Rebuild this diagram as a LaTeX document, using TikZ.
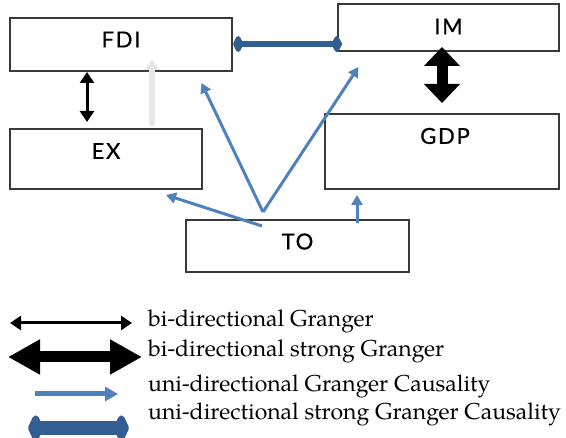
\documentclass[tikz,border=0pt]{standalone}
\usepackage{fontspec}
\usetikzlibrary{arrows.meta}
\newfontfamily\boxfont[LetterSpace=8,FakeBold=0.8]{Lato}
\newfontfamily\legfont{TeX Gyre Pagella}
\definecolor{uniblue}{HTML}{4F81BD}
\definecolor{strongblue}{HTML}{335E92}
\definecolor{boxline}{HTML}{3A3A3A}
\definecolor{ghost}{HTML}{E8E8E8}
\begin{document}
\begin{tikzpicture}[x=1pt,y=-1pt,
  varbox/.style={draw=boxline, line width=1.3pt, rectangle, inner sep=0pt},
  boxlbl/.style={font=\boxfont\fontsize{22}{22}\selectfont, text=black, inner sep=0pt},
  bithin/.style={draw=black, line width=3pt, {Triangle[length=11pt,width=14pt]}-{Triangle[length=11pt,width=14pt]}},
  bibig/.style={draw=black, line width=11pt, {Triangle[length=19pt,width=35pt]}-{Triangle[length=19pt,width=35pt]}},
  legbig/.style={draw=black, line width=11pt, {Triangle[length=32pt,width=33pt]}-{Triangle[length=32pt,width=33pt]}},
  uni/.style={draw=uniblue, line width=3pt, -{Triangle[length=10pt,width=11pt]}},
  leguni/.style={draw=uniblue, line width=5pt, -{Triangle[length=13pt,width=14pt]}},
  strong/.style={draw=strongblue, line width=6pt, {Kite[length=11pt,width=21pt,inset=5.5pt,round]}-{Kite[length=11pt,width=21pt,inset=5.5pt,round]}},
  legstrong/.style={draw=strongblue, line width=14pt, {Kite[length=16pt,width=34pt,inset=8pt,round]}-{Kite[length=16pt,width=34pt,inset=8pt,round]}},
  ghostarrow/.style={draw=ghost, line width=6pt, -{Triangle[length=11pt,width=14pt]}},
  legtext/.style={font=\legfont\fontsize{23}{23}\selectfont, anchor=base west, inner sep=0pt, text=black}]
\fill[white] (0,0) rectangle (566,438);
\useasboundingbox (0,0) rectangle (566,438);

% boxes
\node[varbox, minimum width=222pt, minimum height=53pt,
      label={[boxlbl,yshift=5pt]center:FDI}] (FDI) at (121,44.5) {};
\node[varbox, minimum width=221pt, minimum height=47pt,
      label={[boxlbl,yshift=1pt]center:IM}] (IM) at (448.5,27.5) {};
\node[varbox, minimum width=192pt, minimum height=60pt,
      label={[boxlbl,yshift=8pt]center:EX}] (EX) at (106,159) {};
\node[varbox, minimum width=234pt, minimum height=75pt,
      label={[boxlbl,yshift=15.5pt,xshift=3pt]center:GDP}] (GDP) at (442,151.5) {};
\node[varbox, minimum width=223pt, minimum height=52pt,
      label={[boxlbl,yshift=4.5pt]center:TO}] (TO) at (297.5,246) {};

% connector end points
\coordinate (fdiR) at (233,44);
\coordinate (imL) at (342,44);
\coordinate (fdiB) at (87,72);
\coordinate (exT) at (87,122);
\coordinate (exG) at (152,126);
\coordinate (fdiG) at (152,59);
\coordinate (imB) at (442,47);
\coordinate (gdpT) at (442,103);
\coordinate (toV) at (263,212);
\coordinate (fdiTip) at (201.5,83);
\coordinate (imTip) at (358.5,67);
\coordinate (toL) at (262,226);
\coordinate (exTip) at (166,195);
\coordinate (toR) at (357,223);
\coordinate (gdpTip) at (357,195);

% connectors
\draw[ghostarrow] (exG) -- (fdiG);
\draw[strong] (fdiR) -- (imL);
\draw[bithin] (fdiB) -- (exT);
\draw[bibig] (imB) -- (gdpT);
\draw[uni] (toV) -- (fdiTip);
\draw[uni] (toV) -- (imTip);
\draw[uni] (toL) -- (exTip);
\draw[uni] (toR) -- (gdpTip);

% legend
\coordinate (l1a) at (10,323);
\coordinate (l1b) at (132,323);
\coordinate (l2a) at (8,357);
\coordinate (l2b) at (142,357);
\coordinate (l3a) at (35,394);
\coordinate (l3b) at (118,394);
\coordinate (l4a) at (28,428);
\coordinate (l4b) at (129,428);
\draw[bithin] (l1a) -- (l1b);
\draw[legbig] (l2a) -- (l2b);
\draw[leguni] (l3a) -- (l3b);
\draw[legstrong] (l4a) -- (l4b);
\node[legtext] (t1) at (148,326.7) {bi-directional Granger};
\node[legtext] (t2) at (148,356.7) {bi-directional strong Granger};
\node[legtext] (t3) at (148,391.7) {uni-directional Granger Causality};
\node[legtext] (t4) at (148,420) {uni-directional strong Granger Causality};
\end{tikzpicture}
\end{document}
